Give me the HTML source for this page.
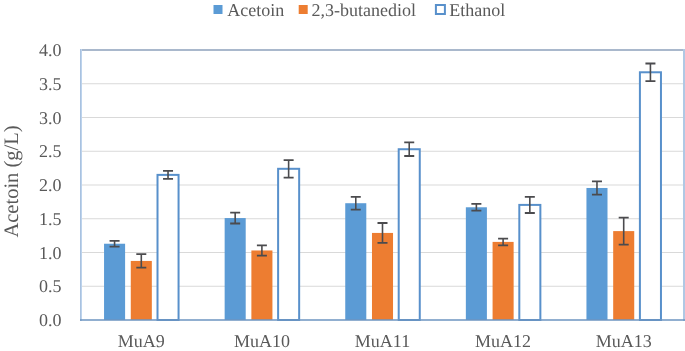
<!DOCTYPE html>
<html><head><meta charset="utf-8"><style>
html,body{margin:0;padding:0;background:#fff;width:685px;height:351px;overflow:hidden;}
svg{display:block;font-family:"Liberation Serif",serif;will-change:transform;}
text{text-rendering:geometricPrecision;}
</style></head><body>
<svg width="685" height="351" viewBox="0 0 685 351">
<rect width="685" height="351" fill="#fff"/>
<line x1="81.0" y1="286.25" x2="684.0" y2="286.25" stroke="#d9d9d9" stroke-width="1"/>
<line x1="81.0" y1="252.5" x2="684.0" y2="252.5" stroke="#d9d9d9" stroke-width="1"/>
<line x1="81.0" y1="218.75" x2="684.0" y2="218.75" stroke="#d9d9d9" stroke-width="1"/>
<line x1="81.0" y1="185.0" x2="684.0" y2="185.0" stroke="#d9d9d9" stroke-width="1"/>
<line x1="81.0" y1="151.25" x2="684.0" y2="151.25" stroke="#d9d9d9" stroke-width="1"/>
<line x1="81.0" y1="117.5" x2="684.0" y2="117.5" stroke="#d9d9d9" stroke-width="1"/>
<line x1="81.0" y1="83.75" x2="684.0" y2="83.75" stroke="#d9d9d9" stroke-width="1"/>
<rect x="104.05" y="243.73" width="21.05" height="76.27" fill="#5b9bd5"/>
<rect x="130.78" y="260.94" width="21.05" height="59.06" fill="#ed7d31"/>
<rect x="157.51" y="174.88" width="21.05" height="145.12" fill="#fff" stroke="#5890cb" stroke-width="2"/>
<rect x="224.65" y="218.07" width="21.05" height="101.93" fill="#5b9bd5"/>
<rect x="251.38" y="250.47" width="21.05" height="69.53" fill="#ed7d31"/>
<rect x="278.11" y="168.80" width="21.05" height="151.20" fill="#fff" stroke="#5890cb" stroke-width="2"/>
<rect x="345.25" y="203.22" width="21.05" height="116.78" fill="#5b9bd5"/>
<rect x="371.98" y="232.93" width="21.05" height="87.07" fill="#ed7d31"/>
<rect x="398.71" y="149.23" width="21.05" height="170.77" fill="#fff" stroke="#5890cb" stroke-width="2"/>
<rect x="465.85" y="207.28" width="21.05" height="112.72" fill="#5b9bd5"/>
<rect x="492.58" y="241.90" width="21.05" height="78.10" fill="#ed7d31"/>
<rect x="519.31" y="204.91" width="21.05" height="115.09" fill="#fff" stroke="#5890cb" stroke-width="2"/>
<rect x="586.45" y="187.97" width="21.05" height="132.03" fill="#5b9bd5"/>
<rect x="613.18" y="231.10" width="21.05" height="88.90" fill="#ed7d31"/>
<rect x="639.91" y="72.28" width="21.05" height="247.72" fill="#fff" stroke="#5890cb" stroke-width="2"/>
<line x1="81.0" y1="50.0" x2="684.0" y2="50.0" stroke="#a9b8cc" stroke-width="2"/>
<line x1="80.5" y1="49.0" x2="80.5" y2="321.0" stroke="#a9c2e0" stroke-width="1"/>
<line x1="81.5" y1="49.0" x2="81.5" y2="321.0" stroke="#bdd3ec" stroke-width="1"/>
<line x1="684.0" y1="49.0" x2="684.0" y2="321.0" stroke="#b0c8e4" stroke-width="2"/>
<line x1="80.0" y1="320.1" x2="685.0" y2="320.1" stroke="#6d95c0" stroke-width="1.5"/>
<g stroke="#4b4b4e" fill="none">
<path d="M114.57 240.89V246.56" stroke-width="1.6"/>
<path d="M109.57 240.89H119.57M109.57 246.56H119.57" stroke-width="1.8"/>
<path d="M141.30 254.19V267.69" stroke-width="1.6"/>
<path d="M136.30 254.19H146.30M136.30 267.69H146.30" stroke-width="1.8"/>
<path d="M168.03 170.82V178.93" stroke-width="1.6"/>
<path d="M163.03 170.82H173.03M163.03 178.93H173.03" stroke-width="1.8"/>
<path d="M235.17 212.68V223.48" stroke-width="1.6"/>
<path d="M230.17 212.68H240.17M230.17 223.48H240.17" stroke-width="1.8"/>
<path d="M261.90 245.41V255.54" stroke-width="1.6"/>
<path d="M256.90 245.41H266.90M256.90 255.54H266.90" stroke-width="1.8"/>
<path d="M288.63 160.03V177.57" stroke-width="1.6"/>
<path d="M283.63 160.03H293.63M283.63 177.57H293.63" stroke-width="1.8"/>
<path d="M355.77 196.81V209.64" stroke-width="1.6"/>
<path d="M350.77 196.81H360.77M350.77 209.64H360.77" stroke-width="1.8"/>
<path d="M382.50 223.00V242.85" stroke-width="1.6"/>
<path d="M377.50 223.00H387.50M377.50 242.85H387.50" stroke-width="1.8"/>
<path d="M409.23 142.47V155.98" stroke-width="1.6"/>
<path d="M404.23 142.47H414.23M404.23 155.98H414.23" stroke-width="1.8"/>
<path d="M476.37 203.90V210.65" stroke-width="1.6"/>
<path d="M471.37 203.90H481.37M471.37 210.65H481.37" stroke-width="1.8"/>
<path d="M503.10 238.53V245.28" stroke-width="1.6"/>
<path d="M498.10 238.53H508.10M498.10 245.28H508.10" stroke-width="1.8"/>
<path d="M529.83 196.81V213.01" stroke-width="1.6"/>
<path d="M524.83 196.81H534.83M524.83 213.01H534.83" stroke-width="1.8"/>
<path d="M596.97 181.36V194.59" stroke-width="1.6"/>
<path d="M591.97 181.36H601.97M591.97 194.59H601.97" stroke-width="1.8"/>
<path d="M623.70 217.60V244.60" stroke-width="1.6"/>
<path d="M618.70 217.60H628.70M618.70 244.60H628.70" stroke-width="1.8"/>
<path d="M650.43 63.50V81.05" stroke-width="1.6"/>
<path d="M645.43 63.50H655.43M645.43 81.05H655.43" stroke-width="1.8"/>
</g>
<g font-family="Liberation Serif, serif" font-size="18" fill="#595959">
<text transform="translate(61.5,326.2) scale(1,1.0)" text-anchor="end">0.0</text>
<text transform="translate(61.5,292.45) scale(1,1.0)" text-anchor="end">0.5</text>
<text transform="translate(61.5,258.7) scale(1,1.0)" text-anchor="end">1.0</text>
<text transform="translate(61.5,224.95) scale(1,1.0)" text-anchor="end">1.5</text>
<text transform="translate(61.5,191.2) scale(1,1.0)" text-anchor="end">2.0</text>
<text transform="translate(61.5,157.45) scale(1,1.0)" text-anchor="end">2.5</text>
<text transform="translate(61.5,123.7) scale(1,1.0)" text-anchor="end">3.0</text>
<text transform="translate(61.5,89.95) scale(1,1.0)" text-anchor="end">3.5</text>
<text transform="translate(61.5,56.2) scale(1,1.0)" text-anchor="end">4.0</text>
<text transform="translate(141.3,347.0) scale(1,1.0)" text-anchor="middle">MuA9</text>
<text transform="translate(261.9,347.0) scale(1,1.0)" text-anchor="middle">MuA10</text>
<text transform="translate(382.5,347.0) scale(1,1.0)" text-anchor="middle">MuA11</text>
<text transform="translate(503.1,347.0) scale(1,1.0)" text-anchor="middle">MuA12</text>
<text transform="translate(623.7,347.0) scale(1,1.0)" text-anchor="middle">MuA13</text>
<rect x="213.5" y="5" width="9" height="9" fill="#5b9bd5"/>
<text transform="translate(227.3,15.6) scale(1,1.0)" text-anchor="start">Acetoin</text>
<rect x="298.7" y="5" width="9" height="9" fill="#ed7d31"/>
<text transform="translate(311.5,15.6) scale(1,1.0)" text-anchor="start">2,3-butanediol</text>
<rect x="435.9" y="5.0" width="9" height="9" fill="#fff" stroke="#5890cb" stroke-width="2"/>
<text transform="translate(449.3,15.6) scale(1,1.0)" text-anchor="start">Ethanol</text>
<text transform="translate(17.5,181.5) rotate(-90) scale(1,1.0)" text-anchor="middle" font-size="20.5">Acetoin (g/L)</text>
</g>
</svg>
</body></html>
